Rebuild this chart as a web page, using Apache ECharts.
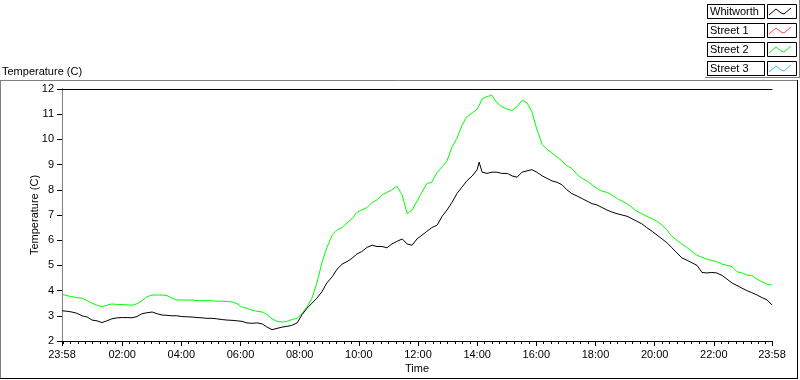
<!DOCTYPE html>
<html>
<head>
<meta charset="utf-8">
<script src="https://cdn.jsdelivr.net/npm/echarts@6/dist/echarts.min.js"></script>
<style>html,body{margin:0;padding:0;background:#fff;}#c{width:800px;height:380px;}</style>
</head>
<body>
<div id="c"></div>
<script>
// minutes elapsed since 23:58 (start of the record)
const minutes = [0,10,20,30,41,51,61,71,81,91,101,112,122,132,142,152,162,172,183,193,203,213,223,233,243,254,264,274,284,294,304,314,325,335,345,355,365,375,385,395,406,416,426,436,446,456,466,477,487,497,507,517,527,537,548,558,568,578,588,598,608,619,629,639,649,659,669,679,690,700,710,720,730,740,750,761,771,781,791,801,811,821,832,842,846,852,862,872,882,892,903,913,923,933,943,953,963,974,984,994,1004,1014,1024,1034,1045,1055,1065,1075,1085,1095,1105,1115,1126,1136,1146,1156,1166,1176,1186,1197,1207,1217,1227,1237,1247,1257,1268,1278,1288,1298,1308,1318,1328,1339,1349,1359,1369,1379,1389,1399,1410,1420,1430,1440];
const whitworth = [3.2,3.18,3.15,3.1,3.0,2.95,2.83,2.8,2.73,2.8,
 2.88,2.92,2.93,2.93,2.92,2.97,3.08,3.12,3.15,3.08,
 3.03,3.02,3.0,3.0,2.97,2.96,2.95,2.93,2.92,2.9,
 2.9,2.88,2.85,2.83,2.82,2.8,2.78,2.72,2.7,2.72,
 2.68,2.55,2.45,2.5,2.55,2.58,2.62,2.72,3.05,3.3,
 3.5,3.7,3.95,4.3,4.55,4.85,5.05,5.15,5.28,5.45,
 5.55,5.72,5.8,5.75,5.75,5.7,5.85,5.95,6.05,5.85,
 5.8,6.05,6.2,6.35,6.5,6.6,6.95,7.2,7.5,7.85,
 8.1,8.35,8.55,8.8,9.1,
 8.7,8.65,8.7,8.7,8.65,8.65,
 8.55,8.5,8.7,8.75,8.8,8.7,8.55,8.45,8.35,8.3,
 8.2,8.0,7.85,7.75,7.65,7.55,7.45,7.4,7.3,7.2,
 7.12,7.05,7.0,6.95,6.85,6.75,6.65,6.5,6.35,6.2,
 6.05,5.9,5.7,5.5,5.3,5.2,5.1,5.0,4.72,4.7,
 4.72,4.7,4.6,4.45,4.3,4.2,4.1,4.0,3.92,3.82,
 3.72,3.63,3.43];
const street1 = [];
const street2 = [3.86,3.8,3.76,3.72,3.7,3.6,3.5,3.42,3.36,3.42,
 3.47,3.45,3.45,3.43,3.42,3.48,3.6,3.75,3.83,3.82,
 3.83,3.8,3.7,3.63,3.63,3.62,3.63,3.6,3.6,3.6,
 3.6,3.58,3.58,3.57,3.55,3.48,3.35,3.3,3.22,3.18,
 3.15,3.05,2.88,2.78,2.75,2.78,2.85,2.9,3.1,3.35,
 3.7,4.3,5.1,5.7,6.2,6.4,6.5,6.68,6.85,7.1,
 7.2,7.3,7.5,7.6,7.8,7.9,8.0,8.15,7.8,7.05,
 7.2,7.55,7.9,8.25,8.3,8.7,8.9,9.15,9.7,10.05,
 10.55,10.9,11.05,11.2,11.35,
 11.6,11.7,11.75,11.45,11.3,11.2,
 11.15,11.3,11.55,11.45,11.1,10.4,9.8,9.6,9.45,9.3,
 9.15,8.95,8.85,8.6,8.45,8.35,8.2,8.05,7.95,7.9,
 7.8,7.65,7.55,7.45,7.3,7.15,7.05,6.95,6.85,6.75,
 6.6,6.4,6.15,6.0,5.85,5.7,5.55,5.4,5.32,5.25,
 5.2,5.15,5.05,5.0,4.95,4.75,4.7,4.62,4.6,4.45,
 4.35,4.25,4.22];
const street3 = [];
const majorTicks = [0,122,242,362,482,602,722,842,962,1082,1202,1322,1440];
const yTicks = [2,3,4,5,6,7,8,9,10,11,12];
const seriesNames = ['Whitworth','Street 1','Street 2','Street 3'];
const seriesColors = ['#000000','#ff4646','#00ff00','#3cbcff'];

const minorTicks = [];
for (let m = 2; m < 1440; m += 15) minorTicks.push(m);

function fmtTime(v) {
  const t = ((Math.round(v) - 2) % 1440 + 1440) % 1440;
  const h = Math.floor(t / 60), mm = t % 60;
  return String(h).padStart(2,'0') + ':' + String(mm).padStart(2,'0');
}
const FONT = 'Liberation Sans, Arial, sans-serif';
const pair = (arr) => arr.map((v,i) => [minutes[i], v]);
const ICON = 'path://M0,7 L7,1 L12,5 L15,6 L22,0';

const chart = echarts.init(document.getElementById('c'), null, {renderer:'canvas'});
const option = {
  animation: false,
  backgroundColor: '#ffffff',
  textStyle: {fontFamily: FONT},
  title: {
    text: 'Temperature (C)', left: 2, top: 66, padding: 0,
    textStyle: {fontSize: 11, fontWeight: 'normal', color: '#000', fontFamily: FONT}
  },
  legend: {
    orient: 'vertical', left: 707, top: 4, align: 'right',
    itemWidth: 22, itemHeight: 8, itemGap: 4, padding: 0, z: 10,
    data: seriesNames.map((n, i) => ({
      name: n, icon: ICON,
      itemStyle: {color: 'rgba(0,0,0,0)', borderColor: seriesColors[i], borderWidth: 1}
    })),
    formatter: (n) => '{n|' + n + '}',
    textStyle: {
      fontSize: 11, color: '#000', fontFamily: FONT,
      width: 52, height: 13, lineHeight: 13,
      borderColor: '#000', borderWidth: 1, padding: [0, 2],
      backgroundColor: '#fff',
      rich: {n: {align: 'left', fontSize: 11, color: '#000', fontFamily: FONT, lineHeight: 13}}
    }
  },
  grid: {left: 62, right: 28, top: 89, bottom: 39, show: false},
  xAxis: [
    {
      type: 'value', min: 0, max: 1440, position: 'bottom',
      name: 'Time', nameLocation: 'middle', nameGap: 22, nameMoveOverlap: false,
      nameTextStyle: {fontSize: 11, color: '#000', fontFamily: FONT},
      axisLine: {show: true, lineStyle: {color: '#000', width: 1}},
      axisTick: {show: true, inside: false, length: 5, customValues: majorTicks, lineStyle: {color: '#000'}},
      axisLabel: {show: true, margin: 8, fontSize: 11, color: '#000', fontFamily: FONT,
        customValues: majorTicks, formatter: fmtTime, showMinLabel: true, showMaxLabel: true},
      splitLine: {show: false}
    },
    {
      type: 'value', min: 0, max: 1440, position: 'bottom',
      axisLine: {show: false},
      axisTick: {show: true, length: 3, customValues: minorTicks, lineStyle: {color: '#000'}},
      axisLabel: {show: false},
      splitLine: {show: false}
    },
    {
      type: 'value', min: 0, max: 1440, position: 'top',
      axisLine: {show: true, lineStyle: {color: '#000', width: 1}},
      axisTick: {show: false}, axisLabel: {show: false}, splitLine: {show: false}
    }
  ],
  yAxis: [
    {
      type: 'value', min: 2, max: 12, interval: 1, position: 'left',
      name: 'Temperature (C)', nameLocation: 'middle', nameGap: 22, nameRotate: 90,
      nameMoveOverlap: false,
      nameTextStyle: {fontSize: 11, color: '#000', fontFamily: FONT},
      axisLine: {show: true, lineStyle: {color: '#000', width: 1}},
      axisTick: {show: true, inside: false, length: 5, lineStyle: {color: '#000'}},
      axisLabel: {margin: 8, fontSize: 11, color: '#000', fontFamily: FONT,
        customValues: yTicks},
      splitLine: {show: false}
    },
    {
      type: 'value', min: 2, max: 12, position: 'right',
      axisLine: {show: true, lineStyle: {color: '#808080', width: 1}},
      axisTick: {show: false}, axisLabel: {show: false}, splitLine: {show: false}
    }
  ],
  series: [
    {name: seriesNames[0], type: 'line', data: pair(whitworth), showSymbol: false, symbol: 'none',
     lineStyle: {color: seriesColors[0], width: 1}, itemStyle: {color: seriesColors[0]}, z: 3},
    {name: seriesNames[1], type: 'line', data: pair(street1), showSymbol: false, symbol: 'none',
     lineStyle: {color: seriesColors[1], width: 1}, itemStyle: {color: seriesColors[1]}},
    {name: seriesNames[2], type: 'line', data: pair(street2), showSymbol: false, symbol: 'none',
     lineStyle: {color: seriesColors[2], width: 1}, itemStyle: {color: seriesColors[2]}, z: 2},
    {name: seriesNames[3], type: 'line', data: pair(street3), showSymbol: false, symbol: 'none',
     lineStyle: {color: seriesColors[3], width: 1}, itemStyle: {color: seriesColors[3]}}
  ],
  graphic: [
    {type:'line', shape:{x1:0, y1:80.5, x2:797, y2:80.5}, style:{stroke:'#808080', lineWidth:1}, silent:true},
    {type:'line', shape:{x1:0.5, y1:80, x2:0.5, y2:378}, style:{stroke:'#808080', lineWidth:1}, silent:true},
    {type:'line', shape:{x1:797.5, y1:80, x2:797.5, y2:379}, style:{stroke:'#000', lineWidth:1}, silent:true},
    {type:'line', shape:{x1:0, y1:378.5, x2:798, y2:378.5}, style:{stroke:'#000', lineWidth:1}, silent:true},
    {type:'line', shape:{x1:705, y1:77.5, x2:800, y2:77.5}, style:{stroke:'#808080', lineWidth:1}, silent:true},
    {type:'line', shape:{x1:799.5, y1:0, x2:799.5, y2:78}, style:{stroke:'#808080', lineWidth:1}, silent:true},
    {type:'rect', shape:{x:767.5, y:4.5, width:29, height:14}, style:{stroke:'#000', fill:null, lineWidth:1}, silent:true},
    {type:'rect', shape:{x:767.5, y:23.5, width:29, height:14}, style:{stroke:'#000', fill:null, lineWidth:1}, silent:true},
    {type:'rect', shape:{x:767.5, y:42.5, width:29, height:14}, style:{stroke:'#000', fill:null, lineWidth:1}, silent:true},
    {type:'rect', shape:{x:767.5, y:61.5, width:29, height:14}, style:{stroke:'#000', fill:null, lineWidth:1}, silent:true}
  ]
};
chart.setOption(option);
</script>
</body>
</html>
